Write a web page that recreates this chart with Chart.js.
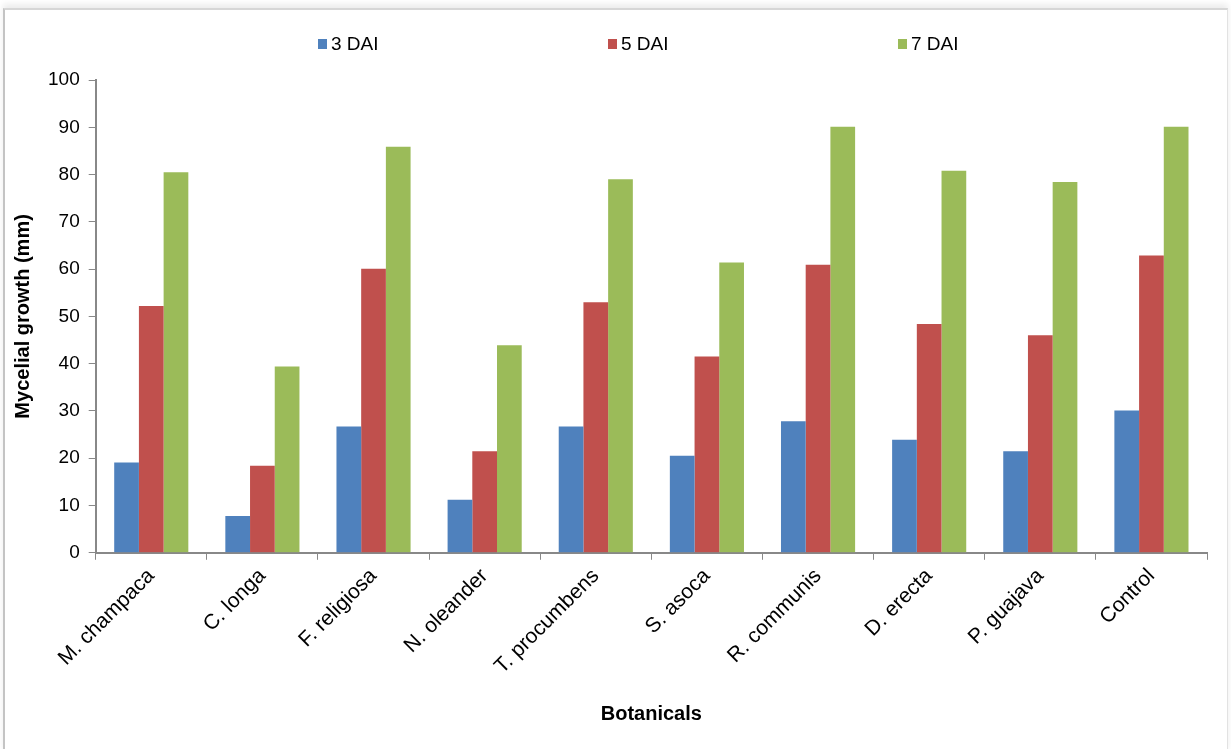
<!DOCTYPE html>
<html>
<head>
<meta charset="utf-8">
<script src="https://cdn.jsdelivr.net/npm/chart.js@4.4.0/dist/chart.umd.min.js"></script>
<style>
    html, body { margin: 0; padding: 0; background: #ffffff; }
    #wrap { position: relative; width: 1231px; height: 749px; overflow: hidden; }
    #frame {
        position: absolute; left: 3px; top: 8px; right: 3px; bottom: -4px;
        border-left: 2px solid #c4c4c4; border-top: 2px solid #d6d6d6; border-right: 1px solid #e2e2e2;
        box-shadow: 0 -4px 6px rgba(0, 0, 0, 0.08);
        pointer-events: none;
    }
    canvas { position: absolute; left: 0; top: 0; }
</style>
</head>
<body>
<div id="wrap">
    <canvas id="growthChart" width="1231" height="749"></canvas>
    <div id="frame"></div>
</div>
<script>
const botanicals = ['M. champaca', 'C. longa', 'F. religiosa', 'N. oleander', 'T. procumbens',
    'S. asoca', 'R. communis', 'D. erecta', 'P. guajava', 'Control'];
const dai3 = [19.1, 7.8, 26.7, 11.2, 26.7, 20.5, 27.8, 23.9, 21.5, 30.1];
const dai5 = [52.2, 18.4, 60.1, 21.5, 53.0, 41.5, 60.9, 48.4, 46.0, 62.9];
const dai7 = [80.5, 39.4, 85.9, 43.9, 79.0, 61.4, 90.1, 80.8, 78.4, 90.1];
const seriesNames = ['3 DAI', '5 DAI', '7 DAI'];
const yTicks = [0, 10, 20, 30, 40, 50, 60, 70, 80, 90, 100];

const FONT = "'Liberation Sans', Arial, sans-serif";
const axisGrey = '#888888';

// Excel-style legend: three items spread across the top
const spreadLegend = {
    id: 'spreadLegend',
    afterDraw(chart) {
        const ctx = chart.ctx;
        ctx.save();
        ctx.font = `19px ${FONT}`;
        ctx.textBaseline = 'middle';
        ctx.textAlign = 'left';
        chart.data.datasets.forEach((ds, i) => {
            const x = 318 + i * 290;
            const y = 44;
            ctx.fillStyle = ds.backgroundColor;
            ctx.fillRect(x, y - 5, 9, 10);
            ctx.fillStyle = '#000000';
            ctx.fillText(ds.label, x + 13, y + 1);
        });
        ctx.restore();
    }
};

const ctx = document.getElementById('growthChart').getContext('2d');
new Chart(ctx, {
    type: 'bar',
    data: {
        labels: botanicals,
        datasets: [
            { label: seriesNames[0], data: dai3, backgroundColor: '#4F81BD' },
            { label: seriesNames[1], data: dai5, backgroundColor: '#C0504D' },
            { label: seriesNames[2], data: dai7, backgroundColor: '#9BBB59' }
        ]
    },
    options: {
        responsive: false,
        animation: false,
        devicePixelRatio: 1,
        layout: { padding: { left: 11, right: 24, top: 80, bottom: 23 } },
        datasets: { bar: { categoryPercentage: 0.667, barPercentage: 1.0 } },
        plugins: {
            legend: { display: false },
            tooltip: { enabled: false }
        },
        scales: {
            x: {
                grid: {
                    display: true,
                    offset: true,
                    drawOnChartArea: false,
                    drawTicks: true,
                    tickLength: 7,
                    color: axisGrey
                },
                border: { color: axisGrey, width: 2 },
                ticks: {
                    color: '#000000',
                    font: { family: FONT, size: 21 },
                    minRotation: 45,
                    maxRotation: 45,
                    padding: 4
                },
                title: {
                    display: true,
                    text: 'Botanicals',
                    color: '#000000',
                    font: { family: FONT, size: 20, weight: 'bold' },
                    padding: { top: 19, bottom: 0 }
                }
            },
            y: {
                min: 0,
                max: 100,
                afterBuildTicks: (axis) => { axis.ticks = yTicks.map(v => ({ value: v })); },
                grid: {
                    display: true,
                    drawOnChartArea: false,
                    drawTicks: true,
                    tickLength: 7,
                    color: axisGrey
                },
                border: { color: axisGrey, width: 2 },
                ticks: {
                    color: '#000000',
                    font: { family: FONT, size: 19 },
                    padding: 9
                },
                title: {
                    display: true,
                    text: 'Mycelial growth (mm)',
                    color: '#000000',
                    font: { family: FONT, size: 20, weight: 'bold' },
                    padding: { top: 0, bottom: 4 }
                }
            }
        }
    },
    plugins: [spreadLegend]
});
</script>
</body>
</html>
